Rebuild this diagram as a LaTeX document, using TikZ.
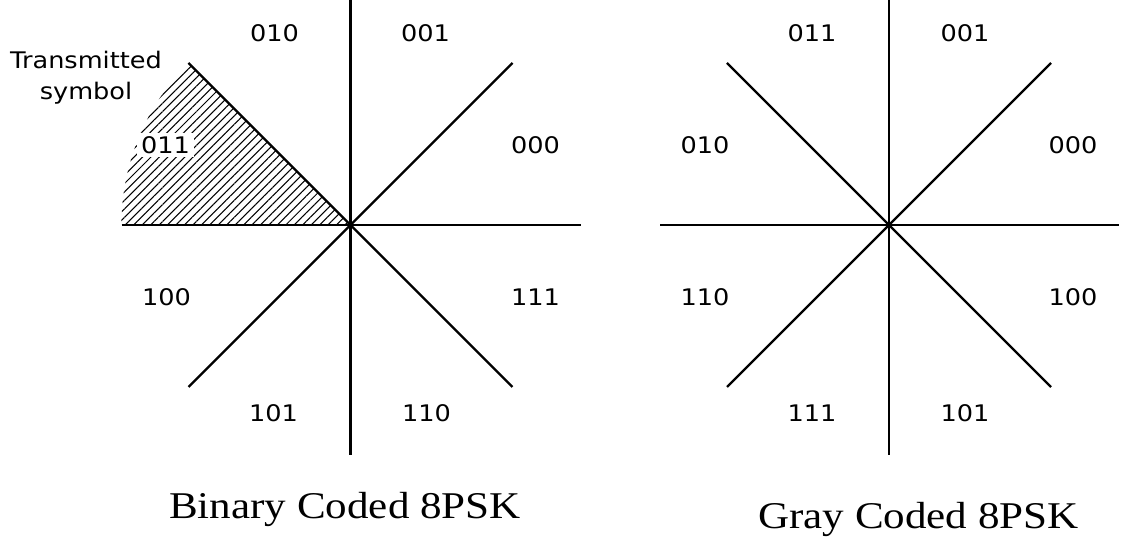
\documentclass[tikz,border=0pt]{standalone}
\usepackage{fontspec}
\setmainfont{Liberation Serif}
\newfontfamily\lblfont{DejaVu Sans}
\usetikzlibrary{calc,patterns.meta}
\tikzset{
  axis/.style={line width=1.35pt},
  hatch/.style={pattern={Lines[angle=45,distance=3.4pt,line width=0.6pt]}},
  lbl/.style={font=\lblfont\fontsize{13}{17.5}\selectfont, inner sep=2pt,
              fill=white, xscale=1.12, transform shape},
  ttl/.style={font=\fontsize{21.5}{26}\selectfont, anchor=base,
              xscale=1.14, transform shape},
}

\begin{document}
\begin{tikzpicture}[x=0.02cm, y=0.02cm]
\useasboundingbox (0,0) rectangle (1126,553);

\coordinate (cL) at (350.5,328);
\coordinate (cR) at (889,328);

% sector of the transmitted symbol
\fill[hatch] (cL) -- ++(-162,162) arc[start angle=135, end angle=180, radius=229] -- cycle;

% axes and decision boundaries
\foreach \c in {cL,cR} {
  \draw[axis] (\c) ++(0,225) -- ++(0,-455);
  \draw[axis] (\c) ++(-229,0) -- ++(459,0);
  \draw[axis] (\c) ++(-162,-162) -- ++(324,324);
  \draw[axis] (\c) ++(-162,162) -- ++(324,-324);
}

% binary coded labels
\foreach \lab/\dx/\dy [count=\i] in {010/-76/192, 001/75/192, 000/185/80, 011/-185/80,
                                     100/-184/-72, 111/185/-72, 101/-77/-188, 110/76/-188}
  \node[lbl] (bl\i) at ($(cL)+(\dx,\dy)$) {\lab};

% gray coded labels
\foreach \lab/\dx/\dy [count=\i] in {011/-77/192, 001/76/192, 010/-184/80, 000/184/80,
                                     110/-184/-72, 100/184/-72, 111/-77/-188, 101/76/-188}
  \node[lbl] (gl\i) at ($(cR)+(\dx,\dy)$) {\lab};

\node[lbl, align=center, fill=none] (txsym) at (86,475) {Transmitted\\symbol};

\node[ttl] (binTitle) at (345,34) {Binary Coded 8PSK};
\node[ttl] (grayTitle) at (918.5,24) {Gray Coded 8PSK};

\end{tikzpicture}
\end{document}
